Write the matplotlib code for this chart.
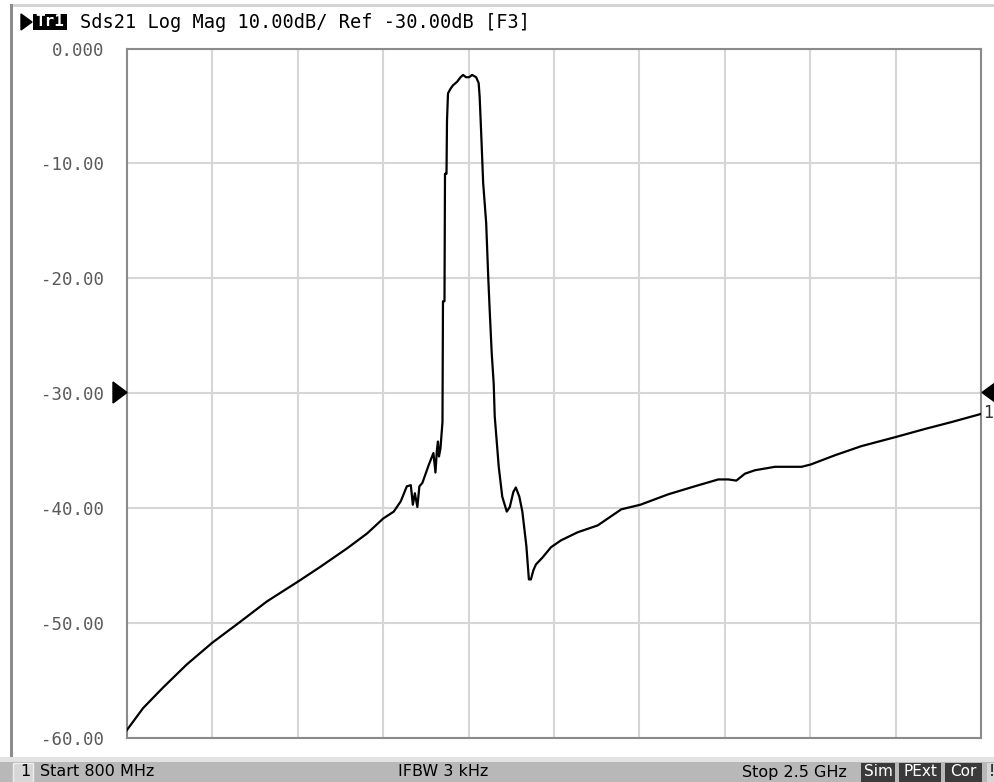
import matplotlib.pyplot as plt
from matplotlib.patches import Rectangle, Polygon

# Sds21 trace (frequency in MHz, magnitude in dB)
freq_mhz = [800, 832, 872, 919, 970, 1019, 1079, 1140, 1185, 1238, 1278, 1310,
            1331, 1345, 1357, 1365, 1369, 1373, 1378, 1382, 1388, 1401, 1410,
            1414, 1417, 1419, 1421, 1424, 1428, 1429, 1432, 1433, 1436, 1437,
            1439, 1444, 1449, 1457, 1464, 1469, 1475, 1481, 1487, 1495, 1500,
            1502, 1505, 1509, 1515, 1519, 1522, 1526, 1530, 1532, 1540, 1547,
            1556, 1562, 1569, 1574, 1581, 1587, 1595, 1600, 1604, 1609, 1614,
            1627, 1644, 1664, 1697, 1737, 1784, 1822, 1877, 1930, 1977, 1997,
            2013, 2030, 2050, 2090, 2143, 2161, 2209, 2262, 2331, 2389, 2442, 2500]
mag_db = [-59.3, -57.4, -55.6, -53.6, -51.7, -50.1, -48.1, -46.4, -45.1, -43.5, -42.2, -40.9,
          -40.3, -39.4, -38.1, -38.0, -39.7, -38.7, -39.9, -38.1, -37.8, -36.2, -35.2,
          -36.9, -34.9, -34.2, -35.5, -34.8, -32.5, -22.0, -22.0, -10.9, -10.9, -6.3,
          -3.9, -3.5, -3.2, -2.9, -2.5, -2.3, -2.5, -2.5, -2.3, -2.5, -3.0,
          -4.2, -7.3, -11.7, -15.2, -19.8, -22.8, -26.5, -29.2, -32.0, -36.4, -39.0,
          -40.3, -39.9, -38.6, -38.2, -39.0, -40.3, -43.3, -46.2, -46.2, -45.4, -44.9,
          -44.3, -43.4, -42.8, -42.1, -41.5, -40.1, -39.7, -38.8, -38.1, -37.5, -37.5,
          -37.6, -37.0, -36.7, -36.4, -36.4, -36.2, -35.4, -34.6, -33.8, -33.1, -32.5, -31.8]

y_ticks = [0, -10, -20, -30, -40, -50, -60]
y_labels = ['0.000', '-10.00', '-20.00', '-30.00', '-40.00', '-50.00', '-60.00']
start_mhz, stop_mhz = 800, 2500
header = 'Sds21 Log Mag 10.00dB/ Ref -30.00dB [F3]'

W, H = 994, 782
MONO = 'DejaVu Sans Mono'


def fx(x):
    return x / W


def fy(y):
    return 1 - y / H


fig = plt.figure(figsize=(W / 100, H / 100), dpi=100)
fig.patch.set_facecolor('white')

# screen frame
fig.patches.append(Rectangle((fx(10), fy(7)), 1, 3 / H, transform=fig.transFigure,
                             facecolor='#d4d4d4', edgecolor='none'))
fig.patches.append(Rectangle((fx(10), fy(757)), 3 / W, 753 / H, transform=fig.transFigure,
                             facecolor='#8c8c8c', edgecolor='none'))

# plot area
ax = fig.add_axes([fx(127), fy(738), (981 - 127) / W, (738 - 48.5) / H])
ax.plot(freq_mhz, mag_db, color='black', lw=1.6, zorder=3)
ax.set_xlim(start_mhz, stop_mhz)
ax.set_ylim(-60, 0)
step = (stop_mhz - start_mhz) / 10
ax.set_xticks([start_mhz + i * step for i in range(11)])
ax.set_xticklabels([])
ax.set_yticks(y_ticks)
ax.set_yticklabels(y_labels, family=MONO)
ax.tick_params(length=0, pad=16.5, labelsize=12.5, labelcolor='#5a5a5a')
ax.grid(True, color='#d6d6d6', lw=1.5)
ax.set_axisbelow(True)
for s in ax.spines.values():
    s.set_color('#8a8a8a')
    s.set_linewidth(1.5)

# reference markers at -30 dB
fig.patches.append(Polygon([(fx(113), fy(382)), (fx(113), fy(403)), (fx(127), fy(392.5))],
                           closed=True, transform=fig.transFigure, color='black'))
fig.patches.append(Polygon([(fx(995), fy(383)), (fx(995), fy(402)), (fx(982), fy(392.5))],
                           closed=True, transform=fig.transFigure, color='black'))
fig.text(fx(983), fy(413), '1', family=MONO, fontsize=12, color='#333333', va='center')

# header line
fig.patches.append(Polygon([(fx(21), fy(14)), (fx(21), fy(30)), (fx(32), fy(22))],
                           closed=True, transform=fig.transFigure, color='black'))
fig.patches.append(Rectangle((fx(33), fy(30)), 34 / W, 16 / H, transform=fig.transFigure,
                             facecolor='black', edgecolor='none'))
fig.text(fx(50), fy(22), 'Tr1', family=MONO, fontsize=11.5, fontweight='bold',
         color='white', ha='center', va='center')
fig.text(fx(80), fy(22), header, family=MONO, fontsize=13.4, color='black', va='center')

# status bar
fig.patches.append(Rectangle((0, fy(762)), 1, 5 / H, transform=fig.transFigure,
                             facecolor='#e2e2e2', edgecolor='none'))
fig.patches.append(Rectangle((0, 0), 1, fy(762), transform=fig.transFigure,
                             facecolor='#b8b8b8', edgecolor='none'))
fig.patches.append(Rectangle((fx(13), 0), 20 / W, fy(763), transform=fig.transFigure,
                             facecolor='#d6d6d6', edgecolor='#eeeeee', lw=1))
fig.text(fx(20), fy(772), '1', fontsize=11.5, color='black', va='center')
fig.text(fx(40), fy(772), 'Start 800 MHz', fontsize=11.5, color='black', va='center')
fig.text(fx(398), fy(772), 'IFBW 3 kHz', fontsize=11.5, color='black', va='center')
fig.text(fx(742), fy(772), 'Stop 2.5 GHz', fontsize=11.5, color='black', va='center')
for x0, x1, lab in [(861, 895, 'Sim'), (899, 941, 'PExt'), (945, 982, 'Cor')]:
    fig.patches.append(Rectangle((fx(x0), 0), (x1 - x0) / W, fy(763), transform=fig.transFigure,
                                 facecolor='#3a3a3a', edgecolor='none'))
    fig.text(fx((x0 + x1) / 2), fy(772), lab, fontsize=11, color='white',
             ha='center', va='center')
fig.patches.append(Rectangle((fx(987), 0), 10 / W, fy(763), transform=fig.transFigure,
                             facecolor='#d6d6d6', edgecolor='none'))
fig.text(fx(989), fy(772), '!', fontsize=11, color='black', va='center')

fig.savefig('out.png', dpi=100)
